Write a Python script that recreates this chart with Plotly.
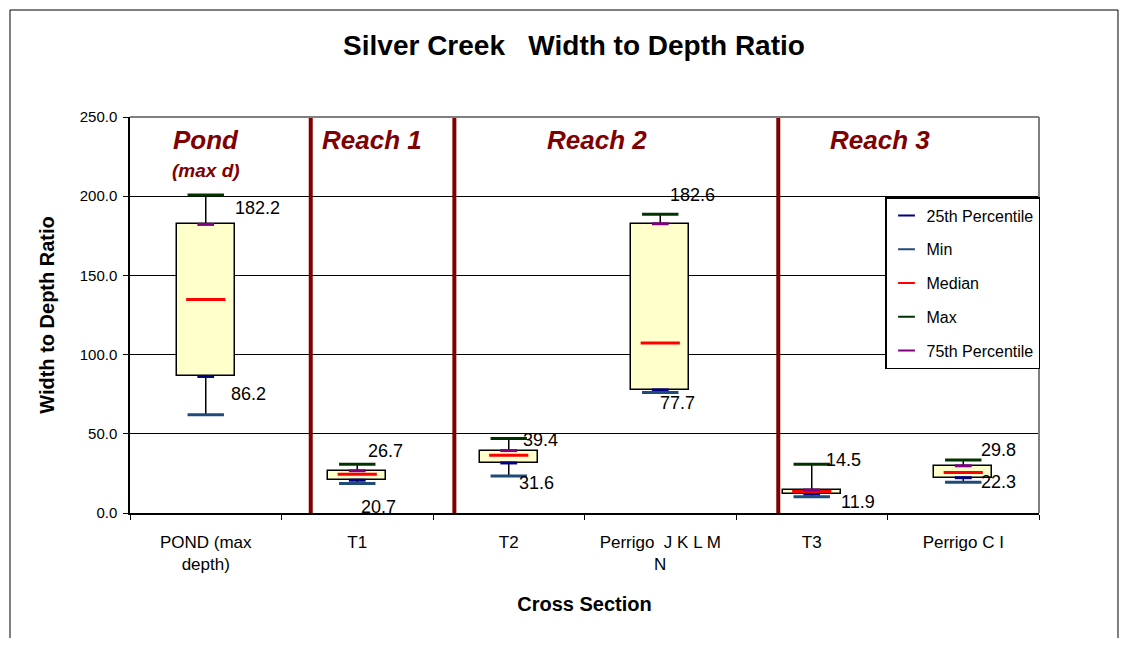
import plotly.graph_objects as go

# ---------------- data ----------------
categories = ["POND (max<br>depth)", "T1", "T2", "Perrigo  J K L M<br>N", "T3", "Perrigo C I"]
p25 = [86.2, 20.7, 31.6, 77.7, 11.9, 22.3]
mins = [62.0, 18.6, 23.4, 76.1, 10.3, 19.4]
medians = [134.8, 24.5, 36.4, 107.4, 13.5, 25.5]
maxs = [200.8, 30.8, 47.0, 188.6, 30.8, 33.5]
p75 = [182.2, 26.7, 39.4, 182.6, 14.5, 29.8]

regions = ["Pond", "Reach 1", "Reach 2", "Reach 3"]
region_x = [0.0, 1.10, 2.58, 4.45]
separators = [0.693, 1.641, 3.779]

y_ticks = [0, 50, 100, 150, 200, 250]

# label offsets (pixels) for the percentile data labels
p75_shift = [(52, 16), (28, 20), (32, 11), (32, 29), (32, 30), (35, 16)]
p25_shift = [(43, -18), (21, -27), (28, -20), (17, -13), (46, -8), (35, -4)]

FONT = "Arial, Liberation Sans, sans-serif"
DARKRED = "#800000"

W, H = 1112, 630          # page adds an 8px body margin around the figure
L, T = 122, 109           # plot area origin inside the figure
PW, PH = 909, 396         # plot area size

x = list(range(len(categories)))

fig = go.Figure()

# boxes (25th -> 75th)
fig.add_trace(go.Bar(
    x=x, y=[b - a for a, b in zip(p25, p75)], base=p25, width=0.38,
    marker=dict(color="#FFFFCC", line=dict(color="black", width=1.5)),
    showlegend=False, hoverinfo="skip"))

# whiskers
wx, wy = [], []
for i in x:
    wx += [i, i, None, i, i, None]
    wy += [mins[i], p25[i], None, p75[i], maxs[i], None]
fig.add_trace(go.Scatter(x=wx, y=wy, mode="lines", line=dict(color="black", width=1.5),
                         showlegend=False, hoverinfo="skip"))

series = [
    ("25th Percentile", p25, "#000080", 12),
    ("Min", mins, "#1F4A7A", 26),
    ("Median", medians, "#FF0000", 28),
    ("Max", maxs, "#003300", 26),
    ("75th Percentile", p75, "#800080", 12),
]
for name, vals, col, size in series:
    fig.add_trace(go.Scatter(
        x=x, y=vals, mode="markers", name=name, legendgroup=name,
        marker=dict(symbol="line-ew", size=size, color=col, line=dict(color=col, width=3)),
        hoverinfo="skip"))

annotations = []
for i in x:
    annotations.append(dict(x=i, y=p75[i], xref="x", yref="y", text=f"{p75[i]:.1f}",
                            showarrow=False, xshift=p75_shift[i][0], yshift=p75_shift[i][1],
                            xanchor="center", yanchor="middle",
                            font=dict(family=FONT, size=18, color="black")))
    annotations.append(dict(x=i, y=p25[i], xref="x", yref="y", text=f"{p25[i]:.1f}",
                            showarrow=False, xshift=p25_shift[i][0], yshift=p25_shift[i][1],
                            xanchor="center", yanchor="middle",
                            font=dict(family=FONT, size=18, color="black")))

for name, rx in zip(regions, region_x):
    annotations.append(dict(x=rx, y=0.942, xref="x", yref="paper", text=f"<b><i>{name}</i></b>",
                            showarrow=False, xanchor="center", yanchor="middle",
                            font=dict(family=FONT, size=26, color=DARKRED)))
annotations.append(dict(x=region_x[0], y=0.866, xref="x", yref="paper", text="<b><i>(max d)</i></b>",
                        showarrow=False, xanchor="center", yanchor="middle",
                        font=dict(family=FONT, size=19, color=DARKRED)))

shapes = []
for s in separators:
    shapes.append(dict(type="line", xref="x", yref="paper", x0=s, x1=s, y0=0, y1=1,
                       line=dict(color=DARKRED, width=4), layer="above"))
# grey top/right border of plot area
shapes.append(dict(type="line", xref="paper", yref="paper", x0=0, x1=1, y0=1, y1=1,
                   line=dict(color="#808080", width=2), layer="above"))
shapes.append(dict(type="line", xref="paper", yref="paper", x0=1, x1=1, y0=0, y1=1,
                   line=dict(color="#808080", width=2), layer="above"))
# outer chart frame
shapes.append(dict(type="rect", xref="paper", yref="paper", x0=-0.132, x1=1.0869, y0=-0.40, y1=1.2702,
                   line=dict(color="black", width=1), fillcolor="rgba(0,0,0,0)", layer="above"))

fig.update_layout(
    width=W, height=H,
    margin=dict(l=L, r=W - L - PW, t=T, b=H - T - PH),
    paper_bgcolor="white", plot_bgcolor="white",
    font=dict(family=FONT, size=15, color="black"),
    title=dict(text="<b>Silver Creek\u00a0\u00a0\u00a0Width to Depth Ratio</b>",
               x=566 / W, xref="container", xanchor="center",
               y=1 - 37 / H, yref="container", yanchor="middle",
               font=dict(family=FONT, size=28, color="black")),
    showlegend=True,
    legend=dict(x=(877 - L) / PW, y=(T + PH - 189) / PH, xanchor="left", yanchor="top",
                bgcolor="white", bordercolor="black", borderwidth=1.5,
                font=dict(family=FONT, size=16, color="black"),
                tracegroupgap=10, itemsizing="constant", itemwidth=30),
    hovermode=False,
    bargap=0,
    annotations=annotations,
    shapes=shapes,
)

fig.update_xaxes(
    range=[-0.5, len(categories) - 0.5],
    tickmode="array", tickvals=x, ticktext=categories, ticks="",
    ticklabelstandoff=13,
    tickfont=dict(family=FONT, size=17),
    minor=dict(tickmode="array", tickvals=[i - 0.5 for i in range(len(categories) + 1)],
               ticks="outside", ticklen=5, tickcolor="black", tickwidth=1, showgrid=False),
    showline=True, linecolor="black", linewidth=1.5,
    showgrid=False, zeroline=False,
    title=dict(text="<b>Cross Section</b>", font=dict(family=FONT, size=20), standoff=24),
)
fig.update_yaxes(
    range=[0, 250], tickmode="array", tickvals=y_ticks, tickformat=".1f",
    ticks="outside", ticklen=5, tickcolor="black",
    ticklabelstandoff=3,
    tickfont=dict(family=FONT, size=15),
    showline=True, linecolor="black", linewidth=1.5,
    showgrid=True, gridcolor="black", gridwidth=1, zeroline=False,
    title=dict(text="<b>Width to Depth Ratio</b>", font=dict(family=FONT, size=20), standoff=20),
)

fig.write_html("out.html")
